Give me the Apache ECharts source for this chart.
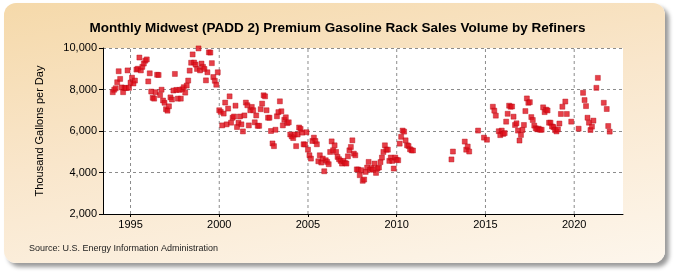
<!DOCTYPE html>
<html>
<head>
<meta charset="utf-8">
<script src="https://cdn.jsdelivr.net/npm/echarts@6/dist/echarts.min.js"></script>
<style>
  html, body { margin: 0; padding: 0; background: #fff; }
  #box {
    position: absolute; left: 4px; top: 3px; width: 661px; height: 260px;
    border-radius: 12px;
    background: linear-gradient(170deg, #f5d9aa 0%, #f9e6cb 45%, #fdf6ec 100%);
    box-shadow: 4px 4px 4px #9a9a9a;
  }
  #chart { position: absolute; left: 0; top: 0; width: 675px; height: 275px; }
</style>
</head>
<body>
<div id="box"></div>
<div id="chart"></div>
<script>
// monthly values, Jan..Dec, thousand gallons per day (null = no data)
const v1994 = [7870, 7990, 8060, 8350, 8880, 8510, 8100, 7870, 8080, 8070, 8920, 8080];
const v1995 = [8330, 8570, 8290, 8430, 8960, 9000, 9540, 8920, 9090, 9250, 9390, 9450];
const v1996 = [8390, 8780, 7900, 7600, 7560, 7870, 8710, 8700, 7730, 7990, 7470, 7360];
const v1997 = [7050, 6980, 7190, 7620, 7520, 7950, 8750, 7980, 7560, 7980, 7560, 8010];
const v1998 = [8110, 7850, 8190, 8430, 8910, 9290, 9690, 9300, 9200, 8990, 9980, 8920];
const v1999 = [9250, 9090, 8990, 8440, 8830, 9790, 9780, 9270, 8600, 8420, 8230, 8830];
const v2000 = [7000, 6920, 6270, 6840, 7370, 6320, 7080, 7670, 6400, 6640, 6700, 7220];
const v2001 = [6190, 6400, 6700, 6320, 5980, 6750, 7370, 7240, 6270, 7000, 7160, 7000];
const v2002 = [6420, 6750, 6250, 6250, 7050, 7320, 7720, 7670, 7000, 6640, 6640, 6000];
const v2003 = [5400, 5270, 6060, 6710, 6910, 7430, 6950, 6270, 6540, 6660, 6380, 6420];
const v2004 = [5830, 5740, 5660, 5830, 5270, 5830, 6170, 6100, 5920, 5360, 5350, 5940];
const v2005 = [5100, 4830, 4670, 5520, 5680, 5520, 5360, 4540, 4830, 4480, 4670, 4060];
const v2006 = [4590, 4510, 4400, 4990, 5500, 5070, 5310, 4990, 4750, 4640, 4560, 4430];
const v2007 = [4560, 4460, 4430, 4780, 5070, 5230, 5550, 4910, 4830, 4150, 4140, 3870];
const v2008 = [4110, 3600, 3660, 4030, 4240, 4510, 4140, 4220, 4140, 4430, 3980, 4190];
const v2009 = [4240, 4500, 4720, 4990, 5310, 5100, 5100, 4560, 4720, 4560, 4190, 4720];
const v2010 = [4610, 4590, 5390, 5720, 6020, 5970, 5550, 5310, 5280, 5120, 5070, 5060];
const v2011 = [null, null, null, null, null, null, null, null, null, null, null, null];
const v2012 = [null, null, null, null, null, null, null, null, null, null, null, null];
const v2013 = [null, 4630, 5010, null, null, null, null, null, null, null, 5490, 5100];
const v2014 = [5250, 5010, null, null, null, null, null, 6020, null, null, null, 5680];
const v2015 = [null, 5580, null, null, null, 7170, 6980, 6740, null, 5990, 5800, 6020];
const v2016 = [5860, 5900, 6450, 6830, 7220, 7170, 7180, 6690, 6290, 6370, 6020, 5540];
const v2017 = [5810, 6050, 6290, 6960, 7570, 7360, 7390, 6670, 6530, 6260, 6130, 6080];
const v2018 = [6110, 6060, 6060, 7140, 6910, 7030, 6990, 6400, 6400, 6220, 6190, 6050];
const v2019 = [5980, 6080, 6360, 6820, 7170, null, 7420, 6820, null, null, 6450, null];
const v2020 = [null, null, null, 6110, null, null, 7840, 7490, 7200, 6640, 6400, 6050];
const v2021 = [6210, 6500, null, 8080, 8560, null, null, null, 7360, null, 7060, 6240];
const v2022 = [5970];

const yearRows = [
  [1994, v1994], [1995, v1995], [1996, v1996], [1997, v1997], [1998, v1998],
  [1999, v1999], [2000, v2000], [2001, v2001], [2002, v2002], [2003, v2003],
  [2004, v2004], [2005, v2005], [2006, v2006], [2007, v2007], [2008, v2008],
  [2009, v2009], [2010, v2010], [2011, v2011], [2012, v2012], [2013, v2013],
  [2014, v2014], [2015, v2015], [2016, v2016], [2017, v2017], [2018, v2018],
  [2019, v2019], [2020, v2020], [2021, v2021], [2022, v2022]
];

const yearTicks = [1995, 2000, 2005, 2010, 2015, 2020];
const yMin = 2000;
const yMax = 10000;

const points = [];
yearRows.forEach(([yr, vals]) => {
  vals.forEach((v, m) => {
    if (v !== null) points.push([yr + m / 12, v]);
  });
});

const gridLine = { color: '#8c8c8c', type: [3, 3], width: 1 };

// vertical dashed grid lines at the labelled years, drawn through the axes
const vGrid = yearTicks.map(y => ({
  type: 'line',
  data: [[y, yMin], [y, yMax]],
  symbol: 'none',
  silent: true,
  z: 1,
  lineStyle: gridLine
}));

const chart = echarts.init(document.getElementById('chart'));

const option = {
  animation: false,
  title: {
    text: 'Monthly Midwest (PADD 2) Premium Gasoline Rack Sales Volume by Refiners',
    left: 'center',
    top: 16,
    textStyle: { fontFamily: 'Liberation Sans', fontSize: 13.5, fontWeight: 'bold', color: '#000' }
  },
  grid: {
    left: 103, right: 52, top: 48, bottom: 61,
    show: true, backgroundColor: '#ffffff', borderWidth: 0
  },
  xAxis: {
    type: 'value',
    min: 1993.45,
    max: 2022.75,
    axisLine: { lineStyle: { color: '#000', width: 1 } },
    axisTick: { show: true, length: 3, customValues: yearTicks, lineStyle: { color: '#000' } },
    axisLabel: {
      customValues: yearTicks,
      color: '#000', fontFamily: 'Liberation Sans', fontSize: 11, margin: 5,
      formatter: v => String(v)
    },
    splitLine: { show: false }
  },
  yAxis: {
    type: 'value',
    min: yMin,
    max: yMax,
    interval: 2000,
    name: 'Thousand Gallons per Day',
    nameLocation: 'middle',
    nameGap: 58,
    nameTextStyle: { fontFamily: 'Liberation Sans', fontSize: 11, color: '#000' },
    axisLine: { show: true, lineStyle: { color: '#000', width: 1 } },
    axisTick: { show: true, length: 4, lineStyle: { color: '#000' } },
    axisLabel: {
      color: '#000', fontFamily: 'Liberation Sans', fontSize: 11, margin: 6,
      formatter: v => v.toLocaleString('en-US')
    },
    splitLine: { show: true, lineStyle: gridLine }
  },
  series: vGrid.concat([
    {
      type: 'scatter',
      z: 3,
      data: points,
      symbol: 'rect',
      symbolSize: 5,
      itemStyle: { color: '#e0101b', borderColor: '#b3000d', borderWidth: 0.5 }
    }
  ]),
  graphic: [{
    type: 'text',
    left: 29,
    top: 244,
    style: {
      text: 'Source: U.S. Energy Information Administration',
      fontFamily: 'Liberation Sans', fontSize: 9, fill: '#222'
    }
  }]
};

chart.setOption(option);
</script>
</body>
</html>
